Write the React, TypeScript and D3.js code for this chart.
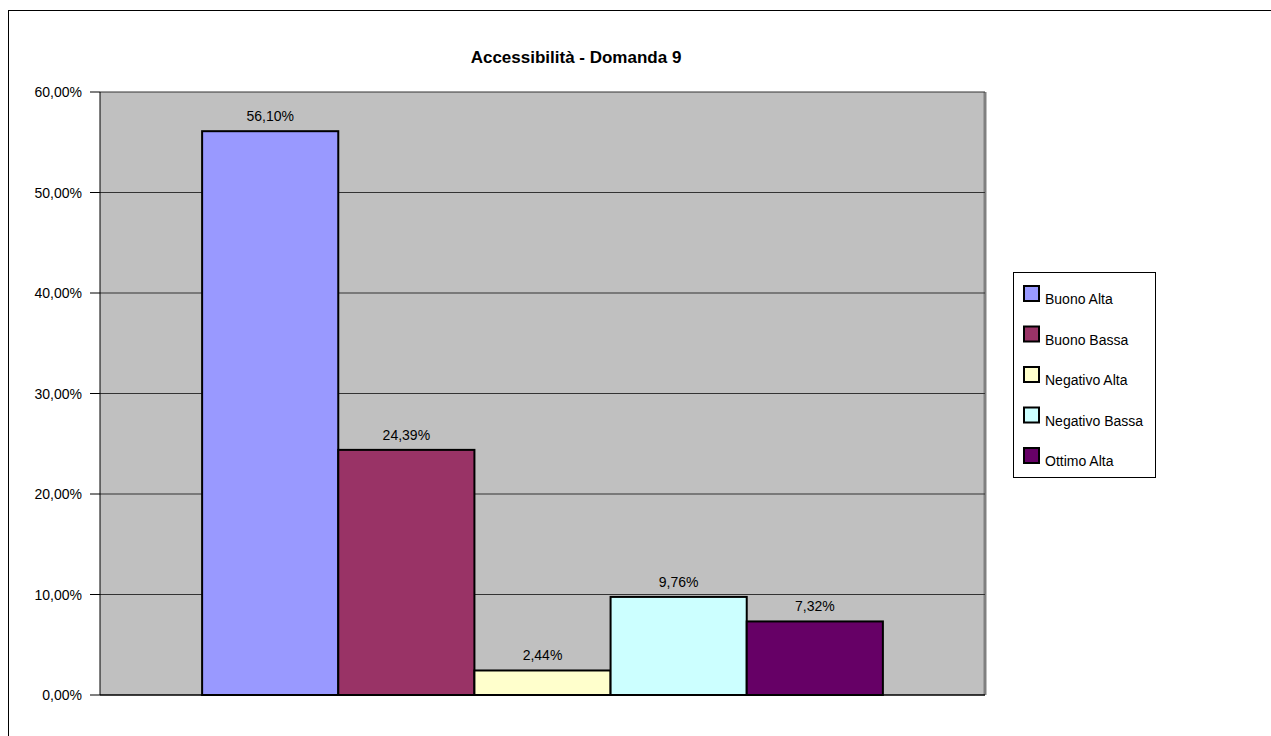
import React from "react";
import * as d3 from "d3";

const categories = ["Buono Alta", "Buono Bassa", "Negativo Alta", "Negativo Bassa", "Ottimo Alta"];
const values = [56.1, 24.39, 2.44, 9.76, 7.32];
const colors = ["#9999ff", "#993366", "#ffffcc", "#ccffff", "#660066"];
const yTicks = [0, 10, 20, 30, 40, 50, 60];
const title = "Accessibilità - Domanda 9";

const W = 1271;
const H = 736;
const plot = { left: 100, right: 985, top: 92, bottom: 695 };
const font = "Liberation Sans, Arial, Helvetica, sans-serif";

const fmt = (v: number) => v.toFixed(2).replace(".", ",") + "%";

export default function App() {
  const y = d3.scaleLinear().domain([0, 60]).range([plot.bottom, plot.top]);
  // one category cluster, 150% gap width around five adjacent bars
  const plotW = plot.right - plot.left;
  const barW = plotW / (categories.length + 1.5);
  const x = d3
    .scaleBand<string>()
    .domain(categories)
    .range([plot.left + barW * 0.75, plot.right - barW * 0.75])
    .paddingInner(0)
    .paddingOuter(0);

  const legendX = 1013;
  const legendY = 272;
  const legendW = 142;
  const legendH = 205;
  const rowH = 40.5;

  return (
    <svg
      width={W}
      height={H}
      style={{ position: "absolute", left: 0, top: 0, background: "#fff" }}
      fontFamily={font}
    >
      {/* chart frame, running past the right and bottom edges */}
      <rect x={8.5} y={10.5} width={1280} height={740} fill="#fff" stroke="#000" strokeWidth={1} />

      <text x={576} y={63} textAnchor="middle" fontSize={17} fontWeight="bold" fill="#000">
        {title}
      </text>

      {/* plot area */}
      <rect
        x={plot.left}
        y={plot.top}
        width={plotW}
        height={plot.bottom - plot.top}
        fill="#c0c0c0"
      />
      <line x1={plot.right} x2={plot.right} y1={plot.top} y2={plot.bottom} stroke="#808080" strokeWidth={3} />

      {yTicks.map((t) => (
        <g key={t}>
          <line
            x1={plot.left}
            x2={plot.right}
            y1={y(t)}
            y2={y(t)}
            stroke={t === 0 ? "#000" : "#333"}
            strokeWidth={1}
          />
          <line x1={plot.left - 10} x2={plot.left} y1={y(t)} y2={y(t)} stroke="#000" strokeWidth={1} />
          <text x={82} y={y(t) + 5} textAnchor="end" fontSize={14} fill="#000">
            {fmt(t)}
          </text>
        </g>
      ))}
      <line x1={plot.left} x2={plot.left} y1={plot.top} y2={plot.bottom} stroke="#000" strokeWidth={1} />

      {categories.map((c, i) => (
        <g key={c}>
          <rect
            x={x(c)!}
            y={y(values[i])}
            width={x.bandwidth()}
            height={plot.bottom - y(values[i])}
            fill={colors[i]}
            stroke="#000"
            strokeWidth={2}
          />
          <text
            x={x(c)! + x.bandwidth() / 2}
            y={y(values[i]) - 10}
            textAnchor="middle"
            fontSize={14}
            fill="#000"
          >
            {fmt(values[i])}
          </text>
        </g>
      ))}
      <line x1={plot.left} x2={plot.right} y1={plot.bottom} y2={plot.bottom} stroke="#000" strokeWidth={1} />

      {/* legend */}
      <rect x={legendX + 0.5} y={legendY + 0.5} width={legendW} height={legendH} fill="#fff" stroke="#000" strokeWidth={1} />
      {categories.map((c, i) => {
        const cy = legendY + 22 + i * rowH;
        return (
          <g key={c}>
            <rect x={legendX + 11} y={cy - 8} width={15} height={15} fill={colors[i]} stroke="#000" strokeWidth={2} />
            <text x={legendX + 32} y={cy + 10} fontSize={14} fill="#000">
              {c}
            </text>
          </g>
        );
      })}
    </svg>
  );
}
